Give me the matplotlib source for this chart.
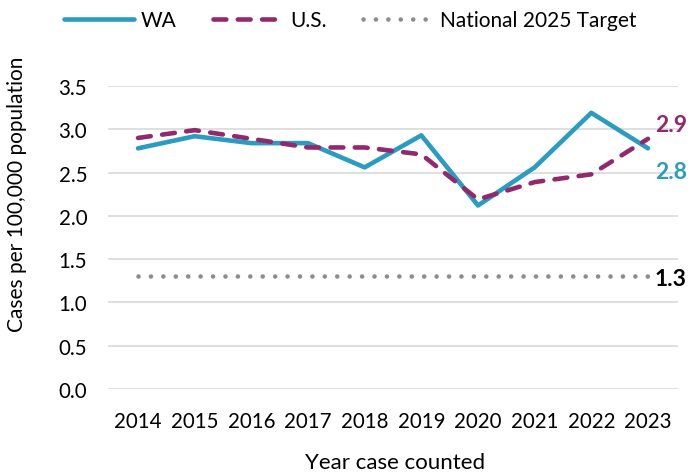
import matplotlib.pyplot as plt

plt.rcParams['font.family'] = ['Lato', 'DejaVu Sans']

years = [2014, 2015, 2016, 2017, 2018, 2019, 2020, 2021, 2022, 2023]
wa = [2.78, 2.92, 2.84, 2.84, 2.56, 2.93, 2.12, 2.56, 3.19, 2.78]
us = [2.90, 2.99, 2.89, 2.79, 2.79, 2.71, 2.19, 2.39, 2.48, 2.89]
target = [1.3] * len(years)

c_wa = '#2b9cbf'
c_us = '#93296d'
c_tg = '#8c8c8c'

fig = plt.figure(figsize=(6.93, 4.77), dpi=100)
ax = fig.add_axes([108 / 693, 1 - 390 / 477, 570 / 693, 303 / 477])

lw = 3.3
ax.plot(years, wa, color=c_wa, lw=lw, label='WA', solid_capstyle='round')
ax.plot(years, us, color=c_us, lw=lw, ls=(0, (2.8, 2.5)), label='U.S.',
        dash_capstyle='round')
ax.plot(years, target, color=c_tg, lw=lw, ls=(0, (0.01, 2.7)),
        dash_capstyle='round', label='National 2025 Target')

ax.set_xlim(2013.47, 2023.53)
ax.set_ylim(0, 3.5)
ax.set_yticks([0, 0.5, 1, 1.5, 2, 2.5, 3, 3.5])
ax.set_yticklabels(['0.0', '0.5', '1.0', '1.5', '2.0', '2.5', '3.0', '3.5'])
ax.set_xticks(years)
ax.grid(axis='y', color='#d9d9d9', lw=1.2)
ax.set_axisbelow(True)
for s in ax.spines.values():
    s.set_visible(False)
ax.tick_params(length=0, labelsize=14.8, colors='#000000')
ax.tick_params(axis='y', pad=15)
ax.tick_params(axis='x', pad=16)

ax.set_ylabel('Cases per 100,000 population', fontsize=15, va='center', ha='center')
ax.yaxis.set_label_coords(-0.159, 0.645)
ax.set_xlabel('Year case counted', fontsize=16, va='center')
ax.xaxis.set_label_coords(0.503, -0.24)

ax.annotate('2.9', (years[-1], us[-1]), xytext=(5, 12), textcoords='offset points',
            color=c_us, fontsize=16.5, fontweight='bold', va='center_baseline')
ax.annotate('2.8', (years[-1], wa[-1]), xytext=(5, -15), textcoords='offset points',
            color=c_wa, fontsize=16.5, fontweight='bold', va='center_baseline')
ax.annotate('1.3', (years[-1], target[-1]), xytext=(5, 0), textcoords='offset points',
            color='black', fontsize=16.5, fontweight='bold', va='center_baseline')

fig.legend(loc='center', bbox_to_anchor=(0.505, 1 - 21 / 477), ncol=3, frameon=False,
           fontsize=15, handlelength=3.4, columnspacing=1.75, handletextpad=0.3,
           borderaxespad=0, borderpad=0)

fig.savefig('out.png', dpi=100)
